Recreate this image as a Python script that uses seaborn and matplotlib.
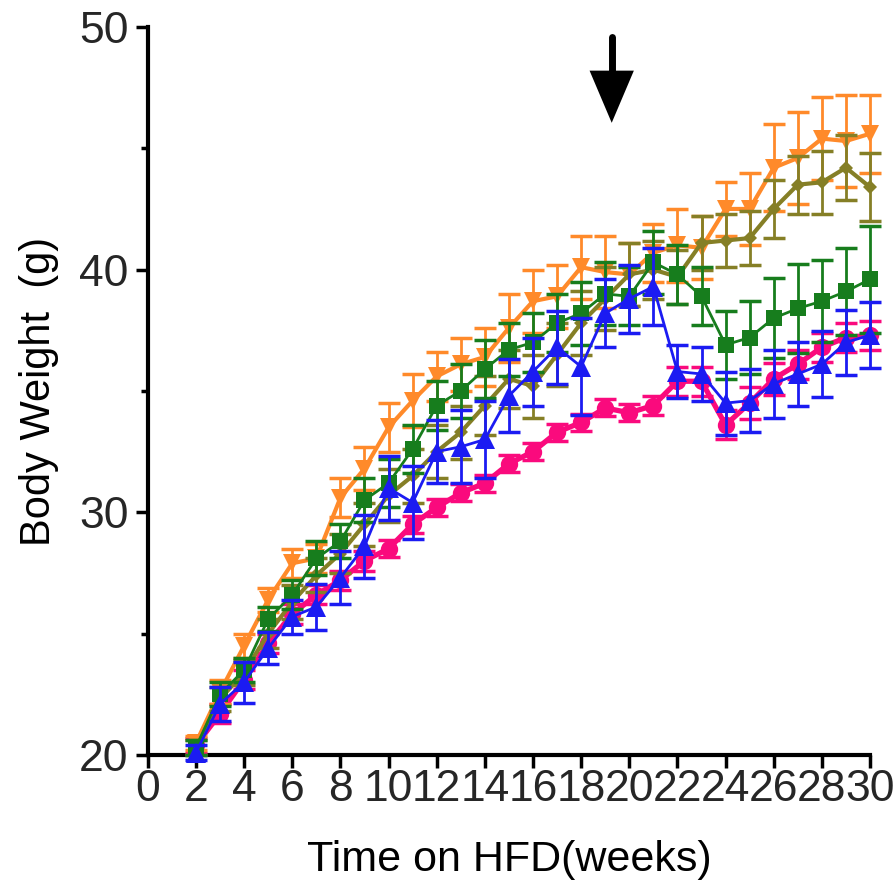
import matplotlib
matplotlib.use("Agg")
import matplotlib.pyplot as plt
import seaborn as sns
import numpy as np
import pandas as pd

weeks = list(range(2, 31))

pink = [20.4, 21.7, 23.1, 24.6, 25.8, 26.6, 27.2, 28.0, 28.5, 29.5, 30.2, 30.8, 31.2, 32.0,
        32.5, 33.3, 33.7, 34.3, 34.1, 34.4, 35.4, 35.4, 33.6, 34.5, 35.5, 36.1, 36.8, 37.2, 37.3]
pink_err = [0.3, 0.4, 0.4, 0.4, 0.4, 0.4, 0.4, 0.4, 0.35, 0.35, 0.35, 0.35, 0.35, 0.35, 0.35,
            0.35, 0.35, 0.35, 0.35, 0.4, 0.6, 0.6, 0.6, 0.65, 0.65, 0.6, 0.6, 0.6, 0.6]

orange = [20.5, 22.6, 24.5, 26.4, 27.9, 28.1, 30.6, 31.8, 33.5, 34.6, 35.6, 36.1, 36.4, 37.6,
          38.7, 38.9, 40.1, 39.9, 39.8, 40.7, 41.0, 40.9, 42.5, 42.5, 44.2, 44.6, 45.4, 45.3, 45.6]
orange_err = [0.3, 0.5, 0.5, 0.5, 0.6, 0.6, 0.8, 0.9, 1.0, 1.1, 1.0, 1.1, 1.2, 1.4, 1.3, 1.3,
              1.3, 1.5, 1.3, 1.2, 1.5, 1.3, 1.1, 1.5, 1.8, 1.9, 1.7, 1.9, 1.6]

olive = [20.3, 22.3, 23.4, 25.0, 26.3, 27.4, 28.3, 29.5, 30.7, 31.5, 32.5, 33.3, 34.4, 35.5,
         35.2, 36.5, 37.8, 38.8, 39.8, 40.0, 39.7, 41.1, 41.2, 41.3, 42.5, 43.5, 43.6, 44.2, 43.4]
olive_err = [0.3, 0.5, 0.5, 0.6, 0.7, 0.7, 0.8, 0.9, 1.1, 1.1, 1.1, 1.1, 1.2, 1.2, 1.3, 1.3,
             1.3, 1.3, 1.3, 1.2, 1.1, 1.1, 1.1, 1.1, 1.2, 1.2, 1.3, 1.35, 1.4]

green = [20.3, 22.5, 23.5, 25.6, 26.6, 28.1, 28.8, 30.5, 31.2, 32.6, 34.4, 35.0, 35.9, 36.7,
         37.0, 37.8, 38.2, 39.0, 38.9, 40.3, 39.8, 38.9, 36.9, 37.2, 38.0, 38.4, 38.7, 39.1, 39.6]
green_err = [0.3, 0.5, 0.5, 0.5, 0.6, 0.7, 0.7, 0.9, 1.0, 1.0, 1.0, 1.1, 1.2, 1.1, 1.2, 1.2,
             1.3, 1.3, 1.2, 1.3, 1.2, 1.2, 1.4, 1.5, 1.65, 1.85, 1.7, 1.8, 2.2]

blue = [20.1, 22.1, 23.0, 24.4, 25.7, 26.1, 27.3, 28.6, 31.0, 30.4, 32.5, 32.7, 33.0, 34.8,
        35.8, 36.8, 36.0, 38.2, 38.8, 39.3, 35.8, 35.7, 34.5, 34.6, 35.3, 35.7, 36.1, 37.0, 37.3]
blue_err = [0.3, 0.7, 0.85, 0.65, 0.7, 0.95, 1.1, 1.3, 1.3, 1.5, 1.3, 1.5, 1.6, 1.5, 1.4, 1.5,
            2.0, 1.4, 1.4, 1.6, 1.1, 1.1, 1.3, 1.3, 1.4, 1.3, 1.35, 1.35, 1.35]

x_ticks = list(range(0, 31, 2))
y_major = [20, 30, 40, 50]
y_minor = [25, 35, 45]
arrow_week = 19.27
arrow_top, arrow_head_base, arrow_tip = 49.6, 48.2, 46.05
arrow_half_width = 0.92

sns.set_style("ticks")
plt.rcParams["font.family"] = ["Liberation Sans", "DejaVu Sans"]

fig = plt.figure(figsize=(8.96, 8.84), dpi=100)
ax = fig.add_axes([0.165, 0.146, 0.806, 0.8235])

series = [
    (pink, pink_err, "#FA0A7D", "o", 12.5, 3.8, 3),
    (orange, orange_err, "#FF8A2A", "v", 13, 3.0, 4),
    (olive, olive_err, "#857F26", "D", 7, 3.0, 5),
    (green, green_err, "#177D1D", "s", 12, 2.0, 6),
    (blue, blue_err, "#1B1BF2", "^", 15, 2.0, 7),
]

for vals, err, col, mk, ms, lw, z in series:
    df = pd.DataFrame({"week": weeks, "bw": vals})
    ax.errorbar(df["week"], df["bw"], yerr=err, fmt="none", ecolor=col, elinewidth=2.0,
                capsize=8, capthick=2.5, zorder=z, clip_on=False)
    sns.lineplot(data=df, x="week", y="bw", ax=ax, color=col, marker=mk, markersize=ms,
                 markeredgewidth=0, linewidth=lw, zorder=z + 0.5, clip_on=False)

# arrow annotation
ax.plot([arrow_week, arrow_week], [arrow_top, arrow_head_base], color="black", lw=5,
        solid_capstyle="round", clip_on=False, zorder=10)
ax.fill([arrow_week - arrow_half_width, arrow_week + arrow_half_width, arrow_week],
        [arrow_head_base, arrow_head_base, arrow_tip], color="black", lw=0, zorder=10,
        clip_on=False)

ax.set_xlim(0, 30)
ax.set_ylim(20, 50)
ax.set_xticks(x_ticks)
ax.set_xticklabels([str(t) for t in x_ticks])
ax.set_yticks(y_major)
ax.set_yticks(y_minor, minor=True)
ax.set_yticklabels([str(t) for t in y_major])

for s in ["top", "right"]:
    ax.spines[s].set_visible(False)
for s in ["left", "bottom"]:
    ax.spines[s].set_linewidth(3)
    ax.spines[s].set_color("black")

ax.tick_params(axis="x", which="major", length=9, width=2.5, labelsize=32, pad=1,
               labelcolor="#262626", color="black")
ax.tick_params(axis="y", which="major", length=9, width=2.5, labelsize=32, pad=5,
               labelcolor="#262626", color="black")
ax.tick_params(axis="y", which="minor", length=5, width=2.5, color="black")

ax.set_xlabel("Time on HFD(weeks)", fontsize=31, labelpad=22, color="black")
ax.set_ylabel("Body Weight  (g)", fontsize=30, labelpad=14, color="black")

fig.savefig("out.png", dpi=100)
